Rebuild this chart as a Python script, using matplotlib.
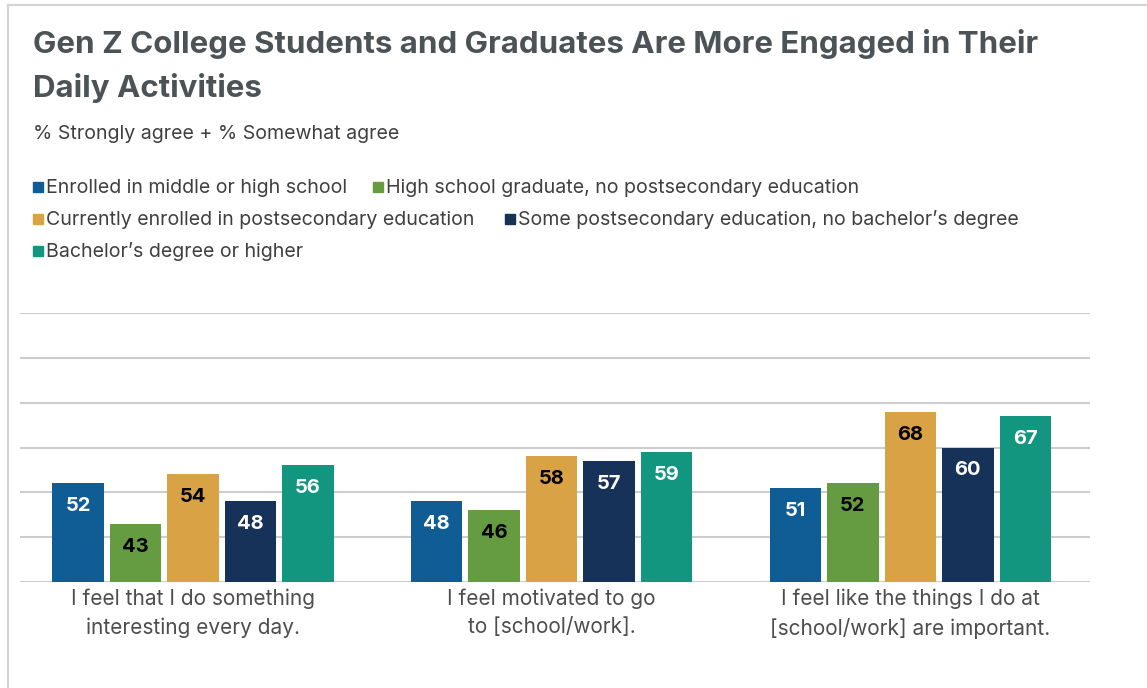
import matplotlib
matplotlib.use("Agg")
import matplotlib.pyplot as plt
from matplotlib.lines import Line2D
from matplotlib.patches import Rectangle
import numpy as np

plt.rcParams['font.family'] = ['Inter', 'DejaVu Sans']

# ---------------- data ----------------
title_lines = ["Gen Z College Students and Graduates Are More Engaged in Their",
               "Daily Activities"]
subtitle = "% Strongly agree + % Somewhat agree"
categories = [
    "I feel that I do something\ninteresting every day.",
    "I feel motivated to go\nto [school/work].",
    "I feel like the things I do at\n[school/work] are important.",
]
series_names = [
    "Enrolled in middle or high school",
    "High school graduate, no postsecondary education",
    "Currently enrolled in postsecondary education",
    "Some postsecondary education, no bachelor\u2019s degree",
    "Bachelor\u2019s degree or higher",
]
middle_high = [52, 48, 51]
hs_grad = [43, 46, 52]
current_post = [54, 58, 68]
some_post = [48, 57, 60]
bachelors = [56, 59, 67]
series_values = [middle_high, hs_grad, current_post, some_post, bachelors]
colors = ["#105c94", "#669c41", "#d9a244", "#163259", "#13967f"]
label_colors = ["white", "black", "black", "white", "white"]

# ---------------- figure ----------------
W, H = 1147, 688
DPI = 100
fig = plt.figure(figsize=(W / DPI, H / DPI), dpi=DPI)

def fx(px):
    return px / W

def fy(py):
    return 1 - py / H

# frame
fig.add_artist(Line2D([fx(8), fx(1147)], [fy(5), fy(5)], color="#d4d4d4", lw=1.6))
fig.add_artist(Line2D([fx(8), fx(8)], [fy(5), fy(688)], color="#d4d4d4", lw=1.6))

# title
for line, base in zip(title_lines, [53, 97]):
    fig.text(fx(33), fy(base), line, fontsize=22.5, fontweight="bold", color="#4b5356",
             va="baseline", ha="left")
fig.text(fx(33), fy(139), subtitle, fontsize=14.1, color="#3f3f3f", va="baseline", ha="left")

# legend (flowing layout)
legend_pos = [(33, 187), (373, 187), (33, 219), (505, 219), (33, 251)]
for (lx, ly), name, c in zip(legend_pos, series_names, colors):
    fig.add_artist(Rectangle((fx(lx), fy(ly) - 5 / H), 10 / W, 10 / H,
                             color=c, transform=fig.transFigure))
    fig.text(fx(lx + 13), fy(ly + 6), name, fontsize=14.1, color="#3f3f3f",
             va="baseline", ha="left")

# axes
ax = fig.add_axes([fx(20), fy(582), fx(1090) - fx(20), fy(313) - fy(582)])
n = len(series_values)
pitch = 0.1603
width = 0.1436
x = np.arange(len(categories))
for i, (vals, c, lc) in enumerate(zip(series_values, colors, label_colors)):
    xs = x + (i - (n - 1) / 2) * pitch
    bars = ax.bar(xs, vals, width=width, color=c, zorder=3)
    for b, v in zip(bars, vals):
        ax.annotate(str(v), (b.get_x() + b.get_width() / 2, v),
                    xytext=(0, -16.5), textcoords="offset points",
                    ha="center", va="center", fontsize=14.5, fontweight="bold",
                    color=lc, zorder=4)

ax.set_ylim(30, 90)
ax.set_xlim(-0.4824, 2.501)
ax.set_yticks(np.arange(30, 91, 10))
ax.yaxis.grid(True, color="#cdcdcd", lw=1.5, zorder=0)
ax.set_axisbelow(True)
for s in ax.spines.values():
    s.set_visible(False)
ax.tick_params(axis="y", length=0, labelleft=False)
ax.tick_params(axis="x", length=0, pad=5)
ax.set_xticks(x)
ax.set_xticklabels(categories, fontsize=15, color="#4d4d4d", linespacing=1.5)

fig.savefig("out.png", dpi=DPI)
